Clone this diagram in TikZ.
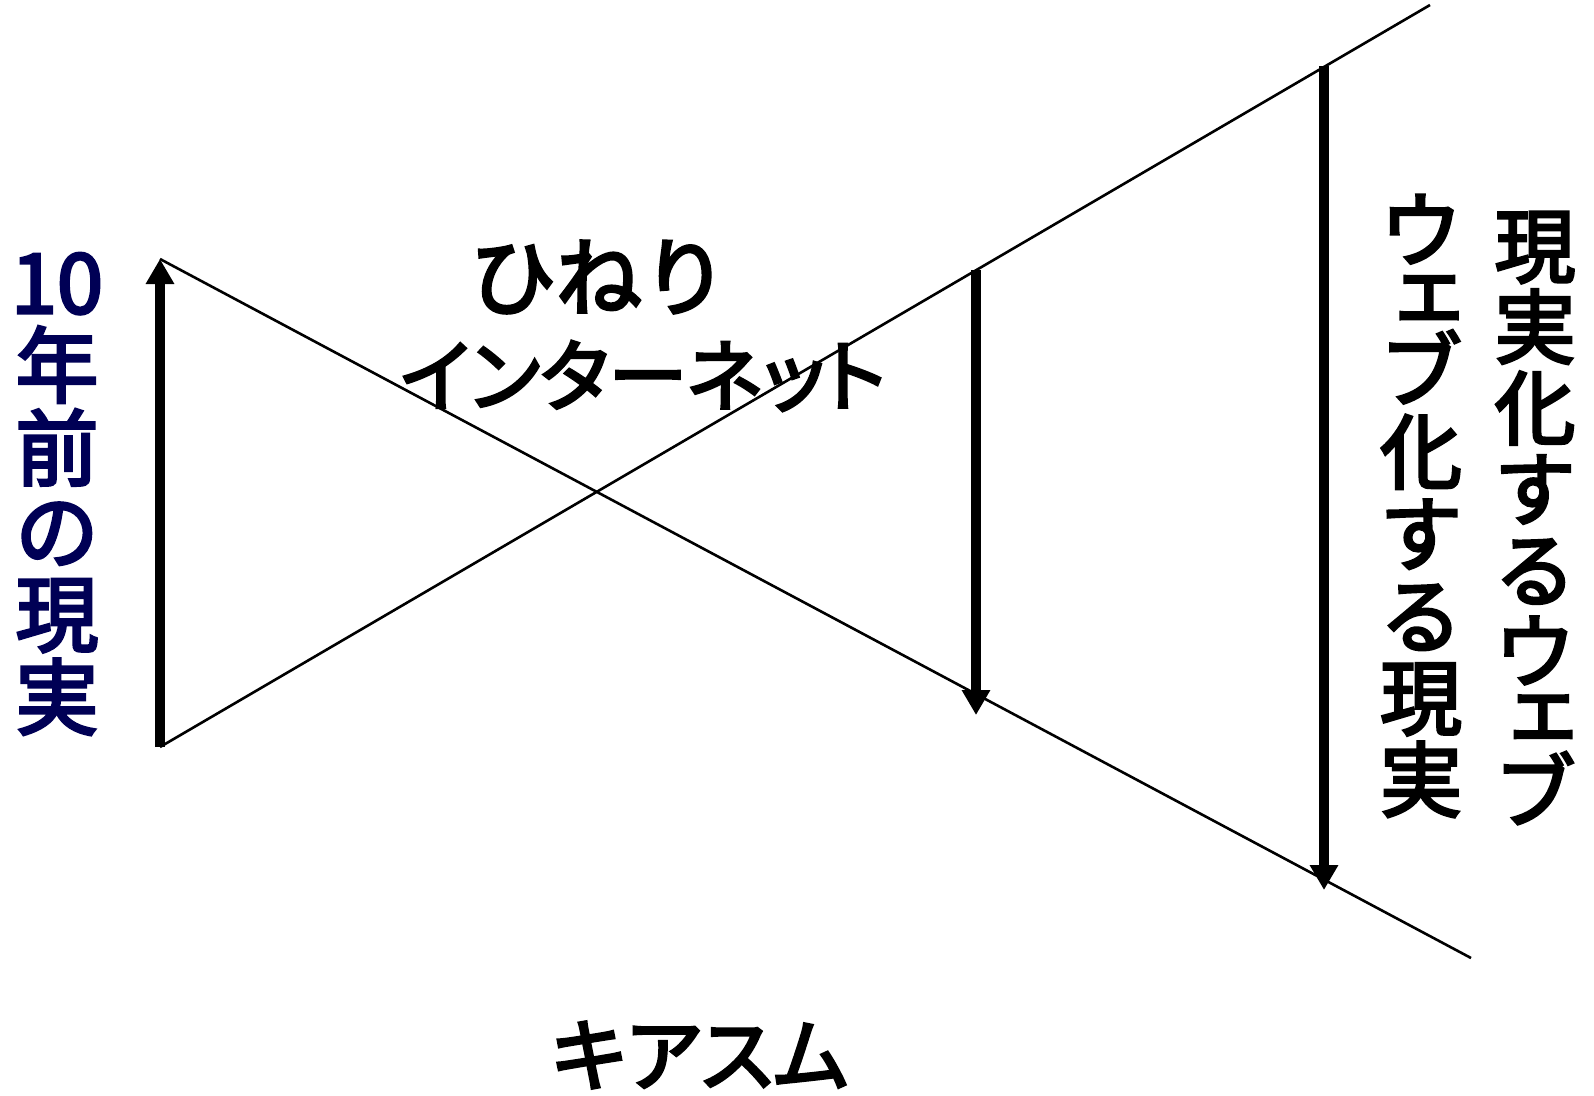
\documentclass[tikz,border=0pt]{standalone}
\usepackage{fontspec}
\newfontfamily\jp[FakeBold=3.5]{Noto Sans CJK JP}
\newfontfamily\jpp[FakeBold=3.5,RawFeature=+palt]{Noto Sans CJK JP}
\usetikzlibrary{arrows.meta}
\definecolor{navy}{RGB}{0,0,85}
\tikzset{
  thinline/.style={line width=2.6pt},
  bigarrow/.style={line width=10pt,-{Triangle[width=27pt,length=25pt]}},
  jptext/.style={inner sep=0pt,font=\jp\fontsize{#1}{#1}\selectfont},
  jpprop/.style={inner sep=0pt,font=\jpp\fontsize{#1}{#1}\selectfont},
  vcol/.style={inner sep=0pt,align=center,font=\jp\fontsize{#1}{#1}\selectfont},
}
\begin{document}
\begin{tikzpicture}[x=1pt,y=-1pt]
\useasboundingbox (0,0) rectangle (1594,1095);
\coordinate (L1s) at (160,259);
\coordinate (L1e) at (1471,958);
\coordinate (L2s) at (160,747);
\coordinate (L2e) at (1430,5);
\coordinate (Mt) at (976,270);
\coordinate (Mb) at (976,715);
\coordinate (Rt) at (1324,66);
\coordinate (Rb) at (1324,890);
\draw[thinline] (L1s) -- (L1e);
\draw[thinline] (L2s) -- (L2e);
\draw[bigarrow] (L2s) -- (L1s);
\draw[bigarrow] (Mt) -- (Mb);
\draw[bigarrow] (Rt) -- (Rb);
\node[jptext=86] (hineri) at (599,277) {ひねり};
\node[jpprop=79] (inet) at (643,376) {インターネット};
\node[jpprop=80] (chiasm) at (700,1055) {キアスム};
\node[vcol=83,text=navy] (past) at (57,494) {10\\年\\前\\の\\現\\実};
\node[vcol=82] (webreal) at (1421,506) {ウ\\[-24pt]\kern16pt ェ\\ブ\\化\\す\\る\\現\\実};
\node[vcol=81] (realweb) at (1535,518) {現\\実\\化\\す\\る\\ウ\\[-25pt]\kern16pt ェ\\[3pt]ブ};
\end{tikzpicture}
\end{document}
